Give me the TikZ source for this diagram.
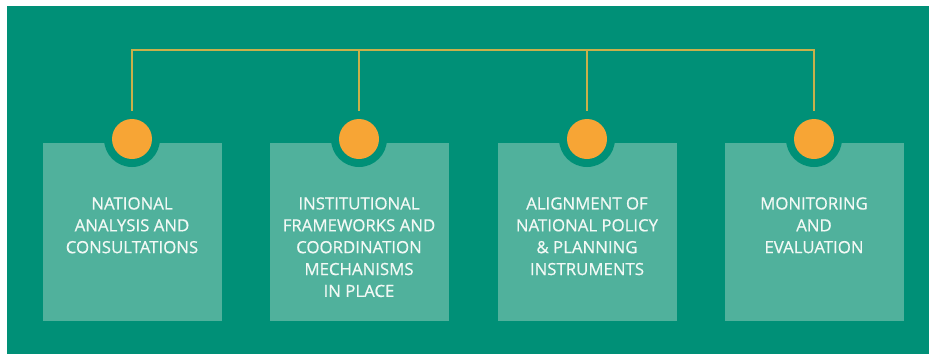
\documentclass[tikz,border=0pt]{standalone}
\usepackage{fontspec}
\setmainfont{Open Sans}
\newfontfamily\stagefont{Open Sans}[FakeBold=0.6]
\usetikzlibrary{positioning}
\definecolor{bgteal}{HTML}{009077}
\definecolor{boxteal}{HTML}{50B19C}
\definecolor{dotorange}{HTML}{F7A535}
\definecolor{busline}{HTML}{C9B04A}
\definecolor{paletext}{HTML}{F2F9F5}

\tikzset{
  stage/.style={fill=boxteal, minimum width=179*0.75pt, minimum height=178*0.75pt, inner sep=0pt, anchor=north},
  stagetext/.style={text=paletext, align=center, anchor=north, inner sep=0pt,
    font=\stagefont\fontsize{12.6pt}{16.4pt}\selectfont},
  ring/.style={circle, fill=bgteal, minimum size=56*0.75pt, inner sep=0pt},
  dot/.style={circle, fill=dotorange, minimum size=40*0.75pt, inner sep=0pt},
  bus/.style={busline, line width=1.2pt}
}

\begin{document}
\begin{tikzpicture}[x=0.75pt, y=-0.75pt]
\useasboundingbox (0,0) rectangle (929,354);
% Background
\fill[white] (0,0) rectangle (929,354);
\fill[bgteal] (7,6) rectangle (929,354);

% Boxes
\node[stage] (national) at (132,143) {};
\node[stage] (institutional) at (359,143) {};
\node[stage] (alignment) at (587,143) {};
\node[stage] (monitoring) at (814,143) {};

% Bus line
\coordinate (busA) at (132,50);
\coordinate (busB) at (359,50);
\coordinate (busC) at (587,50);
\coordinate (busD) at (814,50);
\draw[bus] (national.north) -- (busA) -- (busD) -- (monitoring.north);
\draw[bus] (institutional.north) -- (busB);
\draw[bus] (alignment.north) -- (busC);

% Dots
\foreach \n/\x in {A/132, B/359, C/587, D/814}{
  \node[ring] (ring\n) at (\x,139) {};
  \node[dot] (dot\n) at (\x,139) {};
}

% Labels
\node[stagetext] (nationaltext) at (132,197) {NATIONAL\\ANALYSIS AND\\CONSULTATIONS};
\node[stagetext] (institutionaltext) at (359,197) {INSTITUTIONAL\\FRAMEWORKS AND\\COORDINATION\\MECHANISMS\\IN PLACE};
\node[stagetext] (alignmenttext) at (587,197) {ALIGNMENT OF\\NATIONAL POLICY\\\& PLANNING\\INSTRUMENTS};
\node[stagetext] (monitoringtext) at (814,197) {MONITORING\\AND\\EVALUATION};
\end{tikzpicture}
\end{document}
